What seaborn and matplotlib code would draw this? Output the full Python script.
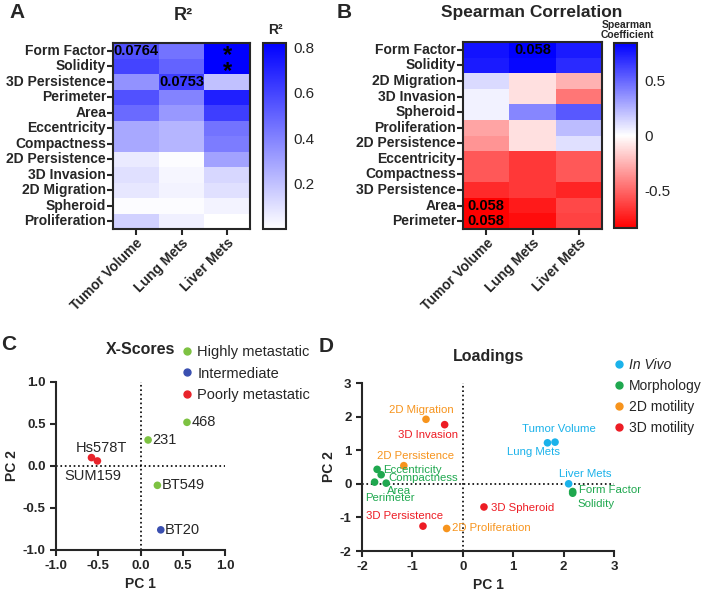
import numpy as np
import pandas as pd
import seaborn as sns
import matplotlib.pyplot as plt
from matplotlib.colors import LinearSegmentedColormap
from matplotlib.lines import Line2D

# ---- data ----
outcomes = ['Tumor Volume', 'Lung Mets', 'Liver Mets']

r2_features = ['Form Factor', 'Solidity', '3D Persistence', 'Perimeter', 'Area',
               'Eccentricity', 'Compactness', '2D Persistence', '3D Invasion',
               '2D Migration', 'Spheroid', 'Proliferation']
r2_tumor = [0.56, 0.60, 0.35, 0.56, 0.48, 0.28, 0.28, 0.07, 0.10, 0.08, 0.01, 0.15]
r2_lung = [0.45, 0.50, 0.62, 0.40, 0.33, 0.24, 0.24, 0.01, 0.03, 0.04, 0.01, 0.05]
r2_liver = [0.82, 0.82, 0.20, 0.72, 0.62, 0.45, 0.42, 0.30, 0.13, 0.10, 0.04, 0.00]
r2_notes = [['0.0764', '', '*'], ['', '', '*'], ['', '0.0753', '']] + [['', '', '']] * 9

sp_features = ['Form Factor', 'Solidity', '2D Migration', '3D Invasion', 'Spheroid',
               'Proliferation', '2D Persistence', 'Eccentricity', 'Compactness',
               '3D Persistence', 'Area', 'Perimeter']
sp_tumor = [0.78, 0.75, 0.12, 0.04, 0.04, -0.30, -0.35, -0.55, -0.55, -0.70, -0.84, -0.84]
sp_lung = [0.84, 0.82, -0.10, -0.10, 0.40, -0.10, -0.10, -0.65, -0.65, -0.65, -0.75, -0.80]
sp_liver = [0.75, 0.70, -0.25, -0.45, 0.55, 0.22, 0.10, -0.55, -0.55, -0.72, -0.60, -0.62]
sp_notes = [['', '0.058', '']] + [['', '', '']] * 9 + [['0.058', '', ''], ['0.058', '', '']]

cell_lines = ['468', '231', 'BT549', 'BT20', 'Hs578T', 'SUM159']
score_pc1 = [0.55, 0.09, 0.20, 0.24, -0.58, -0.51]
score_pc2 = [0.52, 0.31, -0.23, -0.76, 0.10, 0.06]
score_group = ['Highly metastatic', 'Highly metastatic', 'Highly metastatic',
               'Intermediate', 'Poorly metastatic', 'Poorly metastatic']

load_names = ['2D Migration', '3D Invasion', 'Tumor Volume', 'Lung Mets', '2D Persistence',
              'Eccentricity', 'Compactness', 'Area', 'Perimeter', 'Liver Mets',
              'Form Factor', 'Solidity', '3D Spheroid', '3D Persistence', '2D Proliferation']
load_pc1 = [-0.73, -0.36, 1.83, 1.68, -1.17, -1.70, -1.62, -1.52, -1.75, 2.10,
            2.18, 2.18, 0.42, -0.79, -0.32]
load_pc2 = [1.92, 1.76, 1.24, 1.22, 0.54, 0.43, 0.27, 0.02, 0.05, 0.00,
            -0.23, -0.28, -0.69, -1.26, -1.33]
load_group = ['2D motility', '3D motility', 'In Vivo', 'In Vivo', '2D motility',
              'Morphology', 'Morphology', 'Morphology', 'Morphology', 'In Vivo',
              'Morphology', 'Morphology', '3D motility', '3D motility', '2D motility']
# label centres (data coords)
load_lx = [-0.82, -0.69, 1.91, 1.40, -0.93, -0.99, -0.79, -1.27, -1.44, 2.42,
           2.93, 2.65, 1.18, -1.15, 0.57]
load_ly = [2.20, 1.44, 1.62, 0.96, 0.83, 0.42, 0.17, -0.20, -0.43, 0.28,
           -0.17, -0.60, -0.71, -0.97, -1.33]

score_colors = {'Highly metastatic': '#7dc242', 'Intermediate': '#3a4fb0',
                'Poorly metastatic': '#e8232a'}
load_colors = {'In Vivo': '#1ab2ea', 'Morphology': '#1fa84f',
               '2D motility': '#f7941d', '3D motility': '#ed1c24'}

# ---- style ----
sns.set_style('ticks')
plt.rcParams['font.family'] = ['Liberation Sans', 'DejaVu Sans']
plt.rcParams['axes.linewidth'] = 1.5
plt.rcParams['xtick.major.width'] = 1.5
plt.rcParams['ytick.major.width'] = 1.5

fig = plt.figure(figsize=(7.04, 5.95), dpi=100)
W, H = 704, 595


def box(l, t, r, b):
    return [l / W, 1 - b / H, (r - l) / W, (b - t) / H]


def draw_heat(ax, cax, df, notes, cmap, vmin, vmax, ticks, ticklabels):
    sns.heatmap(df, ax=ax, cbar_ax=cax, cmap=cmap, vmin=vmin, vmax=vmax,
                annot=np.array(notes), fmt='',
                annot_kws={'fontsize': 10.5, 'fontweight': 'bold', 'color': 'black'})
    for t in ax.texts:
        if t.get_text() == '*':
            t.set_fontsize(17)
            x, y = t.get_position()
            t.set_position((x, y + 0.32))
    for s in ax.spines.values():
        s.set_visible(True)
        s.set_linewidth(1.5)
    ax.tick_params(length=4, width=1.5, pad=1)
    ax.set_yticklabels(df.index, rotation=0, fontsize=10, fontweight='bold')
    ax.set_xticklabels(df.columns, rotation=45, ha='right', rotation_mode='anchor',
                       fontsize=10, fontweight='bold')
    ax.set_xlabel('')
    ax.set_ylabel('')
    cbar = ax.collections[0].colorbar
    cbar.outline.set_linewidth(1.5)
    cbar.set_ticks(ticks)
    cbar.set_ticklabels(ticklabels, fontsize=11)
    cax.tick_params(direction='in', left=True, right=True, length=3, width=1.2, pad=5)


# ---- A ----
axA = fig.add_axes(box(113, 43, 250, 229))
caxA = fig.add_axes(box(263, 43, 286, 229))
dfA = pd.DataFrame({outcomes[0]: r2_tumor, outcomes[1]: r2_lung, outcomes[2]: r2_liver},
                   index=r2_features)
blues = LinearSegmentedColormap.from_list('wb', ['#ffffff', '#0000ff'])
draw_heat(axA, caxA, dfA, r2_notes, blues, 0.0, 0.82,
          [0.2, 0.4, 0.6, 0.8], ['0.2', '0.4', '0.6', '0.8'])
fig.text(183 / W, 1 - 15 / H, 'R²', ha='center', va='center', fontsize=13, fontweight='bold')
fig.text(275 / W, 1 - 30 / H, 'R²', ha='center', va='center', fontsize=10, fontweight='bold')

# ---- B ----
axB = fig.add_axes(box(463, 42, 602, 229))
caxB = fig.add_axes(box(614, 43, 637, 228))
dfB = pd.DataFrame({outcomes[0]: sp_tumor, outcomes[1]: sp_lung, outcomes[2]: sp_liver},
                   index=sp_features)
rwb = LinearSegmentedColormap.from_list('rwb', ['#ff0000', '#ffffff', '#0000ff'])
draw_heat(axB, caxB, dfB, sp_notes, rwb, -0.84, 0.84,
          [-0.5, 0, 0.5], ['-0.5', '0', '0.5'])
fig.text(532 / W, 1 - 12 / H, 'Spearman Correlation', ha='center', va='center',
         fontsize=12.5, fontweight='bold')
fig.text(627 / W, 1 - 30 / H, 'Spearman\nCoefficient', ha='center', va='center',
         fontsize=7.5, fontweight='bold', linespacing=0.95)

# ---- C ----
axC = fig.add_axes(box(56, 382, 225, 550))
dfC = pd.DataFrame({'PC1': score_pc1, 'PC2': score_pc2, 'group': score_group})
sns.scatterplot(data=dfC, x='PC1', y='PC2', hue='group', palette=score_colors,
                s=30, edgecolor='none', ax=axC, legend=False)
axC.axhline(0, color='black', ls=':', lw=1.2, zorder=0)
axC.axvline(0, color='black', ls=':', lw=1.2, zorder=0)
axC.set_xlim(-1, 1)
axC.set_ylim(-1, 1)
axC.set_xticks([-1, -0.5, 0, 0.5, 1])
axC.set_yticks([-1, -0.5, 0, 0.5, 1])
axC.set_xticklabels(['-1.0', '-0.5', '0.0', '0.5', '1.0'], fontsize=9.5, fontweight='bold')
axC.set_yticklabels(['-1.0', '-0.5', '0.0', '0.5', '1.0'], fontsize=9.5, fontweight='bold')
axC.tick_params(length=4, width=1.5)
axC.set_xlabel('PC 1', fontsize=10, fontweight='bold', labelpad=3)
axC.set_ylabel('PC 2', fontsize=10, fontweight='bold', labelpad=3)
sns.despine(ax=axC)
for name, x, y in zip(cell_lines, score_pc1, score_pc2):
    if name == 'Hs578T':
        axC.text(-0.46, 0.21, name, ha='center', va='center', fontsize=10.5)
    elif name == 'SUM159':
        axC.text(-0.56, -0.12, name, ha='center', va='center', fontsize=10.5)
    else:
        axC.text(x + 0.05, y, name, ha='left', va='center', fontsize=10.5)
axC.text(0.0, 1.0 + (382 - 349) / 84.0, 'X-Scores', ha='center', va='center',
         fontsize=11.5, fontweight='bold', clip_on=False)
hC = [Line2D([], [], marker='o', ls='', color=c, markersize=5) for c in score_colors.values()]
fig.legend(hC, list(score_colors.keys()), loc='upper left',
           bbox_to_anchor=(171 / W, 1 - 338 / H), frameon=False, fontsize=10.5,
           handletextpad=0.1, labelspacing=0.5, handlelength=1.2, borderpad=0)

# ---- D ----
axD = fig.add_axes(box(362, 383, 614, 551))
dfD = pd.DataFrame({'PC1': load_pc1, 'PC2': load_pc2, 'group': load_group})
sns.scatterplot(data=dfD, x='PC1', y='PC2', hue='group', palette=load_colors,
                s=30, edgecolor='none', ax=axD, legend=False)
axD.axhline(0, color='black', ls=':', lw=1.2, zorder=0)
axD.axvline(0, color='black', ls=':', lw=1.2, zorder=0)
axD.set_xlim(-2, 3)
axD.set_ylim(-2, 3)
axD.set_xticks(range(-2, 4))
axD.set_yticks(range(-2, 4))
axD.set_xticklabels([str(v) for v in range(-2, 4)], fontsize=9.5, fontweight='bold')
axD.set_yticklabels([str(v) for v in range(-2, 4)], fontsize=9.5, fontweight='bold')
axD.tick_params(length=4, width=1.5)
axD.set_xlabel('PC 1', fontsize=10, fontweight='bold', labelpad=3)
axD.set_ylabel('PC 2', fontsize=10, fontweight='bold', labelpad=3)
sns.despine(ax=axD)
for name, g, lx, ly in zip(load_names, load_group, load_lx, load_ly):
    axD.text(lx, ly, name, color=load_colors[g], ha='center', va='center',
             fontsize=8.2, clip_on=False)
axD.text(0.5, 3.0 + (383 - 356) / 33.6, 'Loadings', ha='center', va='center',
         fontsize=11.5, fontweight='bold', clip_on=False)
hD = [Line2D([], [], marker='o', ls='', color=c, markersize=5) for c in load_colors.values()]
legD = fig.legend(hD, list(load_colors.keys()), loc='upper left',
                  bbox_to_anchor=(604 / W, 1 - 351 / H), frameon=False, fontsize=10,
                  handletextpad=0.1, labelspacing=0.5, handlelength=1.2, borderpad=0)
legD.get_texts()[0].set_fontstyle('italic')

# panel letters
for letter, x, y in [('A', 17, 13), ('B', 344, 12), ('C', 9, 345), ('D', 326, 346)]:
    fig.text(x / W, 1 - y / H, letter, ha='center', va='center', fontsize=15, fontweight='bold')

fig.savefig('out.png', dpi=100)
